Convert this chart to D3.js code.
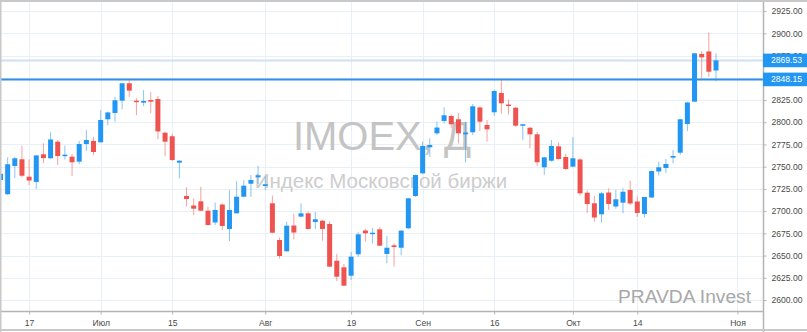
<!DOCTYPE html>
<html>
<head>
<meta charset="utf-8">
<script src="https://cdn.jsdelivr.net/npm/d3@7"></script>
<style>
  body { margin: 0; background: #fff; }
  svg { display: block; font-family: "Liberation Sans", Arial, sans-serif; }
</style>
</head>
<body>
<svg id="chart" width="807" height="332"></svg>
<script>
// IMOEX daily sessions, June - October 2019
const dates = [
  '2019-06-10','2019-06-11','2019-06-13','2019-06-14','2019-06-17','2019-06-18','2019-06-19','2019-06-20','2019-06-21',
  '2019-06-24','2019-06-25','2019-06-26','2019-06-27','2019-06-28','2019-07-01','2019-07-02','2019-07-03','2019-07-04',
  '2019-07-05','2019-07-08','2019-07-09','2019-07-10','2019-07-11','2019-07-12','2019-07-15','2019-07-16','2019-07-17',
  '2019-07-18','2019-07-19','2019-07-22','2019-07-23','2019-07-24','2019-07-25','2019-07-26','2019-07-29','2019-07-30',
  '2019-07-31','2019-08-01','2019-08-02','2019-08-05','2019-08-06','2019-08-07','2019-08-08','2019-08-09','2019-08-12',
  '2019-08-13','2019-08-14','2019-08-15','2019-08-16','2019-08-19','2019-08-20','2019-08-21','2019-08-22','2019-08-23',
  '2019-08-26','2019-08-27','2019-08-28','2019-08-29','2019-08-30','2019-09-02','2019-09-03','2019-09-04','2019-09-05',
  '2019-09-06','2019-09-09','2019-09-10','2019-09-11','2019-09-12','2019-09-13','2019-09-16','2019-09-17','2019-09-18',
  '2019-09-19','2019-09-20','2019-09-23','2019-09-24','2019-09-25','2019-09-26','2019-09-27','2019-09-30','2019-10-01',
  '2019-10-02','2019-10-03','2019-10-04','2019-10-07','2019-10-08','2019-10-09','2019-10-10','2019-10-11','2019-10-14',
  '2019-10-15','2019-10-16','2019-10-17','2019-10-18','2019-10-21','2019-10-22','2019-10-23','2019-10-24','2019-10-25',
  '2019-10-28','2019-10-29'
]
const open = [
  2735, 2719, 2750.8, 2758.3, 2738.7, 2732.8, 2763.9, 2759.4, 2778.1,
  2762.4, 2761.2, 2755.6, 2775.5, 2778.9, 2777.4, 2803.3, 2810.4, 2824.2,
  2843.8, 2824.2, 2822, 2825, 2826.1, 2788.2, 2784.2, 2754.5, 2717,
  2706.3, 2711, 2700.5, 2687.2, 2707.4, 2679.9, 2697.5, 2716.2, 2730.8,
  2738, 2728.3, 2708.8, 2667.5, 2654.8, 2683.8, 2693.8, 2697.5, 2687.8,
  2689.2, 2685.5, 2644.2, 2636.8, 2627.3, 2651.4, 2678.2, 2674.3, 2679.5,
  2651.8, 2661.5, 2658.8, 2680.7, 2717, 2742.5, 2771.8, 2787.5, 2801.4,
  2807, 2803.3, 2786.4, 2788.7, 2816.6, 2796.9, 2811.2, 2832.9, 2819.9,
  2816.3, 2796.1, 2793.8, 2786.4, 2749.3, 2756.7, 2772.9, 2760.9, 2750,
  2758.1, 2720.7, 2708.8, 2696.4, 2720.9, 2705.2, 2709.5, 2723.8, 2710.8,
  2696.8, 2715.3, 2744.6, 2748.5, 2760.1, 2765.7, 2798, 2823.1, 2876.8,
  2879.6, 2858.2
]
const high = [
  2744, 2760.5, 2761, 2773.6, 2758.3, 2763, 2776.3, 2788.7, 2780,
  2773.6, 2764.3, 2778.9, 2791.3, 2783.7, 2813.8, 2812, 2828.7, 2844,
  2848.3, 2827, 2836.3, 2833.7, 2829.5, 2789.3, 2786.8, 2757.5, 2726.8,
  2714.2, 2727.5, 2705, 2709.7, 2708.6, 2723.8, 2733.9, 2734.7, 2740.6,
  2750.8, 2738.7, 2717.6, 2670.5, 2688.1, 2697.1, 2708.8, 2699.6, 2699,
  2690, 2688.7, 2651.8, 2640.5, 2654, 2676.2, 2680.2, 2681, 2681.8,
  2672, 2663.8, 2678.8, 2715, 2741, 2778.1, 2781.9, 2800.6, 2816.8,
  2808.7, 2810.4, 2800.8, 2820.5, 2817.7, 2802.5, 2836.3, 2847.5, 2825.6,
  2817.1, 2798, 2794.6, 2789.3, 2761, 2780, 2777.2, 2764.6, 2783.4,
  2760.1, 2723.2, 2717, 2721.8, 2725.7, 2723.8, 2725.7, 2734.4, 2716.2,
  2716, 2745.5, 2755.6, 2758.6, 2768.8, 2803.5, 2822.8, 2878, 2880,
  2900.9, 2877.5
]
const low = [
  2733, 2718, 2737, 2738, 2729.4, 2724.9, 2753.9, 2759, 2751.9,
  2758, 2739.5, 2752.7, 2767.6, 2762.8, 2777, 2796.5, 2800.6, 2814.5,
  2828.7, 2808, 2818.3, 2810, 2780.8, 2762, 2756.4, 2736.9, 2705.4,
  2695.6, 2700, 2683.6, 2684.4, 2678.8, 2666.4, 2697.3, 2715.5, 2715.9,
  2730.5, 2723.8, 2675, 2646.5, 2654.6, 2668.3, 2693.4, 2679.3, 2679.9,
  2666.7, 2637.1, 2621.4, 2615.8, 2622.5, 2648.7, 2665.6, 2663.6, 2660.8,
  2641.3, 2637.5, 2650.6, 2680, 2716, 2741.8, 2761, 2785.6, 2798.6,
  2793.8, 2776.3, 2754.7, 2785.6, 2790.1, 2778.1, 2807, 2809.6, 2808.7,
  2794.6, 2780, 2770.7, 2750.8, 2740.6, 2755.6, 2758, 2746.3, 2749.6,
  2717.6, 2697.9, 2688, 2687, 2701.3, 2702.7, 2697.5, 2706.9, 2693.4,
  2692.8, 2715, 2740, 2742.9, 2753.8, 2763.1, 2790.1, 2823.1, 2849.4,
  2850.9, 2846
]
const close = [
  2742, 2752.7, 2759.4, 2739.8, 2734.4, 2762.6, 2759.6, 2780.6, 2762,
  2763.5, 2754.9, 2775.5, 2780, 2766.5, 2802.5, 2811, 2824.7, 2843.8,
  2835.5, 2822.8, 2823.9, 2823.1, 2789.6, 2778.1, 2757.5, 2756.7, 2713.6,
  2702.7, 2700.5, 2684.4, 2701.3, 2683.3, 2701.3, 2716.2, 2728.6, 2735,
  2740.3, 2730.2, 2675.7, 2649.5, 2683.6, 2675.9, 2697.5, 2679.9, 2690.8,
  2679.9, 2637.5, 2626.2, 2616.1, 2648.7, 2673.9, 2675, 2675.7, 2661.1,
  2658.8, 2659.6, 2678, 2714.4, 2740.6, 2773.3, 2774.4, 2794, 2807.8,
  2797.7, 2787.5, 2788.4, 2817.9, 2800.6, 2792, 2835.1, 2821.3, 2818.3,
  2796.1, 2797.7, 2786.4, 2754.9, 2760.5, 2773.3, 2758.6, 2747.4, 2759.4,
  2720, 2708, 2692.8, 2720, 2708, 2713.3, 2721.8, 2708.6, 2697.9,
  2715.9, 2745.1, 2749.3, 2753, 2762, 2803.3, 2822.2, 2877.5, 2873,
  2856.8, 2869.53
]
// empty sessions to the right of the last bar
const futureDates = ['2019-10-30','2019-10-31','2019-11-01','2019-11-05','2019-11-06','2019-11-07']

const tickDates = ['2019-06-17','2019-07-01','2019-07-15','2019-08-01','2019-08-19','2019-09-02','2019-09-16','2019-10-01','2019-10-14','2019-11-01']
const tickLabels = ['17', 'Июл', '15', 'Авг', '19', 'Сен', '16', 'Окт', '14', 'Ноя']
const priceTicks = [2600, 2625, 2650, 2675, 2700, 2725, 2750, 2775, 2800, 2825, 2850, 2875, 2900, 2925]

const levelPrice = 2848.15
const lastPrice = 2869.53

const width = 807
const height = 332
const plotRight = 763
const plotBottom = 311
const up = '#2196f3'
const down = '#ef5350'
const gridColor = '#e9eff7'

const svg = d3.select('#chart')

svg.append('rect').attr('width', width).attr('height', height).attr('fill', '#fff')

const x = d3.scalePoint()
  .domain(dates.concat(futureDates))
  .range([0.5, 0.5 + 106 * 7.155])

const y = d3.scaleLinear()
  .domain([2600, 2925])
  .range([300, 11.1])

// grid
svg.append('g')
  .selectAll('line')
  .data(priceTicks)
  .join('line')
  .attr('x1', 0).attr('x2', plotRight)
  .attr('y1', d => Math.round(y(d)) + 0.5).attr('y2', d => Math.round(y(d)) + 0.5)
  .attr('stroke', gridColor)

svg.append('g')
  .selectAll('line')
  .data(tickDates)
  .join('line')
  .attr('x1', d => Math.round(x(d)) + 0.5).attr('x2', d => Math.round(x(d)) + 0.5)
  .attr('y1', 0).attr('y2', plotBottom)
  .attr('stroke', gridColor)

// watermark
svg.append('text')
  .attr('x', 382).attr('y', 150)
  .attr('text-anchor', 'middle')
  .attr('font-size', '40px')
  .attr('fill', '#c4c4c4')
  .text('IMOEX, Д')

svg.append('text')
  .attr('x', 381).attr('y', 187.5)
  .attr('text-anchor', 'middle')
  .attr('font-size', '20.5px')
  .attr('fill', '#cdcdcd')
  .text('Индекс Московской биржи')

// price lines
svg.append('line')
  .attr('x1', 0).attr('x2', plotRight)
  .attr('y1', y(lastPrice)).attr('y2', y(lastPrice))
  .attr('stroke', '#cfe0f0')
  .attr('stroke-width', 2)

svg.append('line')
  .attr('x1', 0).attr('x2', plotRight)
  .attr('y1', y(levelPrice)).attr('y2', y(levelPrice))
  .attr('stroke', '#2d8fe6')
  .attr('stroke-width', 2)

// candles
const candles = svg.append('g')
  .selectAll('g')
  .data(dates.map((d, i) => ({ date: d, o: open[i], h: high[i], l: low[i], c: close[i] })))
  .join('g')

candles.append('line')
  .attr('x1', d => x(d.date)).attr('x2', d => x(d.date))
  .attr('y1', d => y(d.h)).attr('y2', d => y(d.l))
  .attr('stroke', d => d.c >= d.o ? up : down)
  .attr('stroke-opacity', 0.55)
  .attr('stroke-width', 1)

candles.append('rect')
  .attr('x', d => x(d.date) - 2.5)
  .attr('width', 5)
  .attr('y', d => y(Math.max(d.o, d.c)))
  .attr('height', d => Math.max(1.5, Math.abs(y(d.o) - y(d.c))))
  .attr('fill', d => d.c >= d.o ? up : down)

svg.append('text')
  .attr('x', 751).attr('y', 302.5)
  .attr('text-anchor', 'end')
  .attr('font-size', '19.2px')
  .attr('fill', '#a8a8a8')
  .text('PRAVDA Invest')

// price axis
svg.append('rect')
  .attr('x', plotRight).attr('y', 0)
  .attr('width', width - plotRight).attr('height', height)
  .attr('fill', '#fff')

// 2850.00 sits fully under the level label, so it is not shown
const yAxis = svg.append('g')
  .attr('transform', 'translate(' + (plotRight + 0.5) + ',0)')
  .call(d3.axisRight(y).tickValues(priceTicks.filter(d => d !== 2850)).tickFormat(d3.format('.2f')).tickSize(3).tickPadding(5))
yAxis.select('.domain').attr('stroke', '#b4b4b4').attr('stroke-width', 1.5)
  .attr('d', 'M0,0V' + height)
yAxis.selectAll('.tick line').attr('stroke', '#b4b4b4')
yAxis.selectAll('.tick text')
  .attr('font-size', '8.6px')
  .attr('font-family', '"Liberation Sans", Arial, sans-serif')
  .attr('fill', '#4a4a4a')

// time axis
const xAxis = svg.append('g')
  .attr('transform', 'translate(0,' + (plotBottom + 0.5) + ')')
  .call(d3.axisBottom(x).tickValues(tickDates).tickFormat((d, i) => tickLabels[i]).tickSize(3).tickPadding(5))
xAxis.select('.domain').attr('stroke', '#b4b4b4').attr('stroke-width', 1.5)
  .attr('d', 'M0,0H' + plotRight)
xAxis.selectAll('.tick line').attr('stroke', '#b4b4b4')
xAxis.selectAll('.tick text')
  .attr('font-size', '8.6px')
  .attr('font-family', '"Liberation Sans", Arial, sans-serif')
  .attr('fill', '#4a4a4a')

// last price / level labels
const labels = [lastPrice, levelPrice]
svg.append('g')
  .selectAll('rect')
  .data(labels)
  .join('rect')
  .attr('x', plotRight).attr('y', d => y(d) - 6.8)
  .attr('width', width - plotRight).attr('height', 13.6)
  .attr('fill', up)

svg.append('g')
  .selectAll('text')
  .data(labels)
  .join('text')
  .attr('x', plotRight + 8).attr('y', d => y(d))
  .attr('dy', '0.34em')
  .attr('font-size', '8.6px')
  .attr('fill', '#fff')
  .text(d => d3.format('.2f')(d))

// frame
svg.append('path')
  .attr('d', 'M0.5,' + height + 'V1H' + width)
  .attr('fill', 'none')
  .attr('stroke', '#c8c8c8')
  .attr('stroke-width', 2)
svg.append('line')
  .attr('x1', 0).attr('x2', width)
  .attr('y1', height - 2).attr('y2', height - 2)
  .attr('stroke', '#c8c8c8')
  .attr('stroke-width', 2)
</script>
</body>
</html>
